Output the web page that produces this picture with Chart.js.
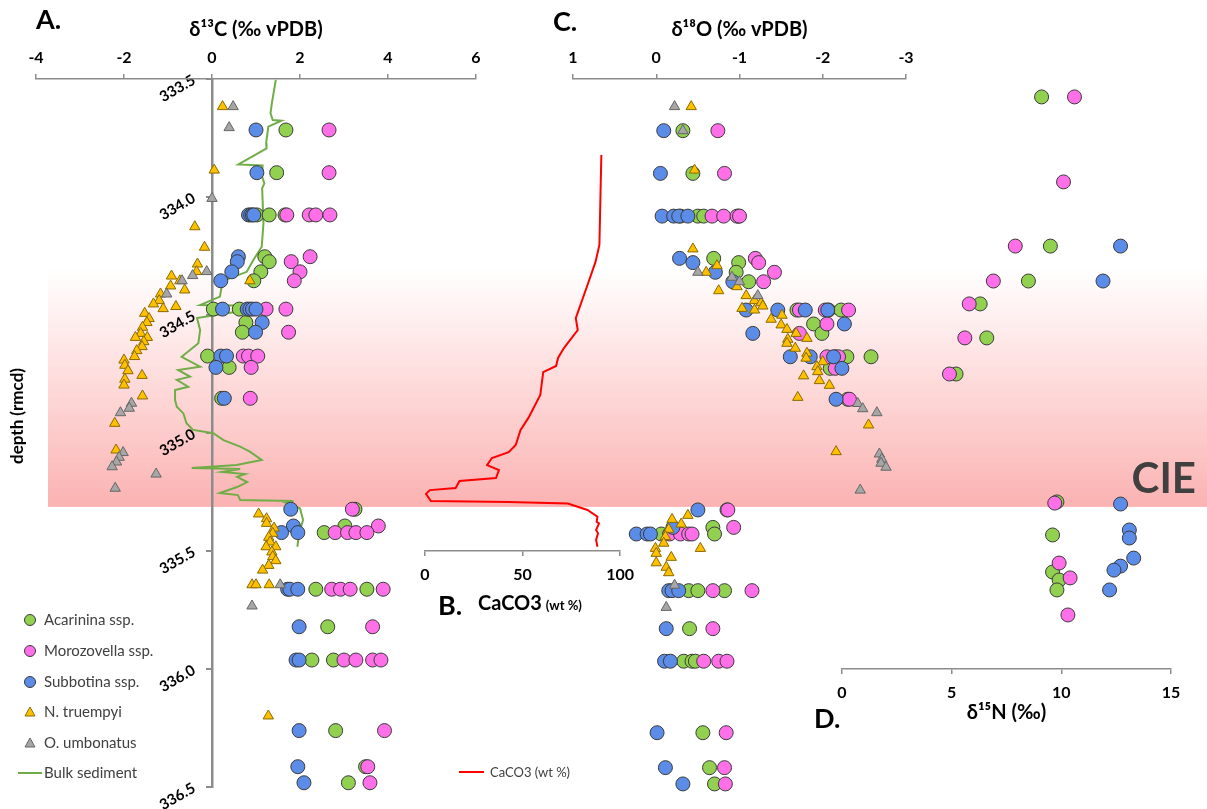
<!DOCTYPE html>
<html>
<head>
<meta charset="utf-8">
<script src="https://cdn.jsdelivr.net/npm/chart.js@4.4.1/dist/chart.umd.min.js"></script>
<style>
  html, body { margin: 0; padding: 0; background: #fff; }
  #wrap { position: relative; width: 1207px; height: 809px; overflow: hidden; }
  #wrap canvas { position: absolute; }
</style>
</head>
<body>
<div id="wrap"></div>
<script>
// ---- data: [depth (rmcd), value] ----
const acarC13 = [[333.716,1.68],[333.897,1.47],[334.076,1.02],[334.076,1.30],[334.076,1.66],[334.253,1.20],[334.274,1.30],[334.317,1.11],[334.355,0.95],
  [334.475,0.03],[334.475,0.62],[334.532,0.77],[334.573,0.69],[334.674,-0.10],[334.722,0.39],[334.853,0.22],
  [335.323,3.25],[335.394,3.02],[335.422,2.55],[335.662,2.36],[335.662,3.52],[335.821,2.63],[335.962,2.27],[335.962,2.76],[336.261,2.81],[336.414,3.49],[336.482,3.10]];
const moroC13 = [[333.716,2.66],[333.897,2.66],[334.076,1.70],[334.076,2.21],[334.076,2.36],[334.076,2.68],[334.253,2.23],[334.274,1.80],[334.317,2.00],[334.355,1.87],
  [334.475,1.23],[334.475,1.68],[334.573,1.74],[334.674,0.71],[334.674,0.83],[334.674,1.04],[334.722,0.89],[334.853,0.87],
  [335.323,3.19],[335.394,3.78],[335.422,2.80],[335.422,3.08],[335.422,3.27],[335.422,3.52],[335.662,2.72],[335.662,2.92],[335.662,3.14],[335.662,3.89],
  [335.821,3.65],[335.962,3.00],[335.962,3.27],[335.962,3.65],[335.962,3.84],[336.261,3.92],[336.414,3.54],[336.482,3.59]];
const subbC13 = [[333.716,1.00],[333.897,1.02],[334.076,0.83],[334.076,0.88],[334.076,0.92],[334.076,0.95],[334.253,0.60],[334.274,0.575],[334.317,0.45],[334.355,0.20],
  [334.475,0.24],[334.475,0.80],[334.475,0.86],[334.475,0.92],[334.475,1.00],[334.532,1.14],[334.573,0.99],[334.674,0.20],[334.674,0.33],[334.722,0.09],[334.853,0.28],
  [335.323,1.79],[335.394,1.85],[335.422,1.58],[335.422,1.95],[335.662,1.72],[335.662,1.77],[335.662,1.95],[335.821,1.98],[335.962,1.91],[335.962,1.98],
  [336.261,1.98],[336.414,1.95],[336.482,2.09]];
const ntruC13 = [[333.617,0.24],[333.886,0.05],[334.126,-0.39],[334.213,-0.17],[334.284,-0.33],[334.316,-0.35],[334.335,-0.92],[334.355,-0.73],[334.355,0.86],
  [334.377,-0.94],[334.394,-0.62],[334.411,-1.17],[334.439,-1.20],[334.453,-1.33],[334.464,-0.82],[334.473,-1.11],[334.493,-1.53],[334.515,-1.43],[334.532,-1.48],
  [334.552,-1.58],[334.578,-1.62],[334.595,-1.74],[334.595,-1.47],[334.613,-1.55],[334.634,-1.59],[334.651,-1.71],[334.676,-1.76],[334.691,-2.00],[334.713,-1.98],
  [334.736,-1.91],[334.756,-1.59],[334.772,-1.98],[334.797,-2.00],[334.843,-1.58],[334.959,-2.21],[335.072,-2.18],
  [335.343,1.06],[335.363,1.24],[335.383,1.24],[335.403,1.41],[335.425,1.38],[335.442,1.29],[335.462,1.32],[335.482,1.23],[335.482,1.45],[335.504,1.36],
  [335.524,1.38],[335.541,1.45],[335.561,1.29],[335.581,1.15],[335.643,0.91],[335.643,1.00],[335.643,1.30],[336.199,1.28]];
const oumbC13 = [[333.617,0.48],[333.706,0.39],[334.006,0.00],[334.316,-0.12],[334.333,-0.44],[334.355,-0.68],[334.411,-1.03],[334.874,-1.83],[334.895,-1.88],
  [334.914,-2.08],[335.083,-2.02],[335.103,-2.11],[335.123,-2.17],[335.143,-2.27],[335.174,-1.27],[335.234,-2.20],[335.643,1.55],[335.733,0.91]];
const bulkC13 = [[333.504,1.45],[333.603,1.36],[333.645,1.33],[333.674,1.38],[333.677,1.58],[333.702,1.28],[333.772,1.23],[333.794,1.24],[333.862,0.60],[333.866,1.15],
  [333.914,1.14],[333.942,1.19],[333.963,1.14],[334.111,1.17],[334.211,1.13],[334.267,0.94],[334.317,0.79],[334.352,0.30],[334.380,0.22],[334.422,0.18],
  [334.458,-0.27],[334.462,1.39],[334.513,-0.34],[334.564,-0.27],[334.620,-0.31],[334.677,-0.69],[334.719,-0.27],[334.733,-0.77],[334.761,-0.50],[334.775,-0.80],
  [334.804,-0.54],[334.818,-0.84],[334.860,-0.84],[334.889,-0.80],[334.917,-0.65],[334.959,-0.58],[334.987,-0.43],[335.001,0.03],[335.030,0.26],[335.058,0.64],
  [335.079,0.86],[335.114,1.13],[335.136,0.56],[335.148,-0.46],[335.153,0.64],[335.165,0.23],[335.174,0.75],[335.186,0.57],[335.208,0.80],[335.229,0.57],
  [335.254,0.18],[335.263,0.59],[335.284,0.64],[335.288,1.85],[335.294,1.66],[335.319,2.00],[335.369,2.07],[335.425,1.98],[335.482,1.94]];

const acarO18 = [[333.719,-0.32],[333.900,-0.44],[334.081,-0.29],[334.081,-0.50],[334.081,-0.57],[334.081,-0.99],[334.260,-0.69],[334.278,-0.99],[334.319,-0.96],[334.359,-1.11],
  [334.479,-1.69],[334.479,-2.07],[334.479,-2.22],[334.538,-1.89],[334.578,-1.99],[334.677,-2.29],[334.677,-2.58],[334.726,-2.09],[334.857,-2.30],
  [335.326,-0.85],[335.400,-0.68],[335.428,-0.06],[335.428,-0.70],[335.668,-0.39],[335.668,-0.50],[335.668,-0.82],[335.829,-0.40],
  [335.967,-0.33],[335.967,-0.43],[335.967,-0.47],[336.270,-0.56],[336.418,-0.64],[336.487,-0.70]];
const moroO18 = [[333.719,-0.74],[333.900,-0.82],[334.081,-0.67],[334.081,-0.81],[334.081,-0.97],[334.081,-1.00],[334.260,-1.19],[334.278,-1.23],[334.319,-1.42],[334.359,-1.29],
  [334.479,-1.72],[334.479,-2.03],[334.479,-2.31],[334.538,-2.05],[334.578,-1.72],[334.677,-2.05],[334.677,-2.15],[334.677,-2.19],[334.726,-2.15],[334.857,-2.32],
  [335.326,-0.86],[335.400,-0.93],[335.428,-0.16],[335.428,-0.29],[335.428,-0.39],[335.428,-0.43],[335.668,-0.68],[335.668,-1.15],[335.829,-0.68],
  [335.967,-0.57],[335.967,-0.75],[335.967,-0.85],[336.270,-0.84],[336.418,-0.82],[336.487,-0.83]];
const subbO18 = [[333.719,-0.09],[333.900,-0.05],[334.081,-0.07],[334.081,-0.21],[334.081,-0.27],[334.081,-0.38],[334.260,-0.28],[334.278,-0.44],[334.319,-0.71],[334.359,-0.92],
  [334.479,-1.08],[334.479,-1.46],[334.479,-1.79],[334.479,-2.06],[334.538,-2.26],[334.578,-1.16],[334.677,-1.61],[334.677,-1.85],[334.677,-2.13],[334.726,-2.23],[334.857,-2.16],
  [335.326,-0.50],[335.400,-0.20],[335.428,0.24],[335.428,0.11],[335.428,0.07],[335.668,-0.15],[335.668,-0.19],[335.668,-0.27],[335.829,-0.12],
  [335.967,-0.10],[335.967,-0.17],[336.270,-0.01],[336.418,-0.11],[336.487,-0.32]];
const ntruO18 = [[333.617,-0.42],[333.886,-0.46],[334.220,-0.44],[334.291,-0.73],[334.319,-0.60],[334.380,-0.97],[334.397,-0.75],[334.418,-1.08],[334.439,-1.18],
  [334.448,-1.26],[334.462,-1.28],[334.472,-1.03],[334.479,-1.18],[334.501,-1.51],[334.518,-1.38],[334.542,-1.50],[334.561,-1.57],[334.578,-1.68],[334.599,-1.81],
  [334.603,-1.58],[334.620,-1.57],[334.641,-1.67],[334.662,-1.81],[334.683,-1.80],[334.698,-2.00],[334.719,-1.93],[334.740,-1.94],[334.758,-1.77],[334.778,-1.96],
  [334.798,-2.08],[334.849,-1.70],[334.966,-2.55],[335.079,-2.16],
  [335.349,-0.38],[335.366,-0.19],[335.386,-0.30],[335.408,-0.15],[335.439,-0.11],[335.467,-0.09],[335.489,0.01],[335.489,-0.53],[335.510,0.00],[335.527,-0.18],
  [335.550,0.00],[335.569,-0.12],[335.592,-0.15]];
const oumbO18 = [[333.617,-0.22],[333.719,-0.32],[334.319,-0.50],[334.340,-0.91],[334.359,-1.00],[334.418,-1.22],[334.875,-2.42],[334.897,-2.48],[334.914,-2.65],
  [335.089,-2.68],[335.111,-2.71],[335.128,-2.70],[335.145,-2.76],[335.242,-2.45],[335.645,-0.22],[335.739,-0.12]];

const caco3 = [[333.822,90.4],[334.013,89.9],[334.203,89.4],[334.275,87.4],[334.373,83.3],[334.513,77.3],[334.564,78.3],[334.640,71.2],[334.682,68.2],[334.716,67.2],
  [334.742,60.6],[334.839,59.1],[334.936,53.0],[334.987,49.0],[335.051,46.5],[335.081,42.9],[335.106,34.3],[335.136,31.8],[335.157,37.9],[335.191,36.4],
  [335.203,17.7],[335.233,15.7],[335.242,2.5],[335.258,0.5],[335.288,3.0],[335.292,42.9],[335.299,73.2],[335.326,83.3],[335.355,88.4],[335.376,88.0],
  [335.383,89.2],[335.411,87.7],[335.425,88.7],[335.453,87.7],[335.482,88.4]];

const acarN15 = [[333.576,9.1],[334.208,9.5],[334.356,8.5],[334.453,6.3],[334.597,6.6],[334.750,5.2],[335.292,9.8],[335.432,9.6],[335.589,9.6],[335.623,9.9],[335.665,9.8]];
const moroN15 = [[333.576,10.6],[333.936,10.1],[334.208,7.9],[334.356,6.9],[334.453,5.8],[334.597,5.6],[334.750,4.9],[335.297,9.7],[335.551,9.9],[335.614,10.4],[335.771,10.3]];
const subbN15 = [[334.208,12.7],[334.356,11.9],[335.301,12.7],[335.411,13.1],[335.445,13.1],[335.530,13.3],[335.564,12.7],[335.581,12.4],[335.665,12.2]];

const cieTop = 334.30, cieBase = 335.313;

// ---- styles ----
Chart.defaults.font.family = "Lato, 'Open Sans', sans-serif";
Chart.defaults.animation = false;
const axisGrey = '#8c8c8c';
const colAcar = '#92d050', colMoro = '#ff70e8', colSubb = '#5b8ce8', colNtru = '#ffc000', colOumb = '#a6a6a6';

const toXY = arr => arr.map(([d, v]) => ({x: v, y: d}));
const circles = (label, arr, color) => ({label, data: toXY(arr), pointStyle: 'circle', pointRadius: 7,
  backgroundColor: color, borderColor: '#3a3a3a', borderWidth: 1, showLine: false, clip: false});
const tris = (label, arr, color, edge) => ({label, data: toXY(arr), pointStyle: 'triangle', pointRadius: 6,
  backgroundColor: color, borderColor: edge, borderWidth: 1, showLine: false, clip: false});

function xAxis(pos, min, max, step, height, extra) {
  return Object.assign({
    type: 'linear', position: pos, min, max,
    ticks: {stepSize: step, color: '#000', font: {size: 16, weight: 'bold'}, padding: pos === 'top' ? 7 : 9},
    grid: {drawOnChartArea: false, tickLength: 5, color: axisGrey, lineWidth: 1.5},
    border: {color: axisGrey, width: 1.5},
    afterFit: s => { s.height = height; }
  }, extra);
}
const depthAxis = max => ({type: 'linear', display: false, min: 333.5, max, reverse: true});

const wrap = document.getElementById('wrap');
function makeChart(left, top, width, height, config) {
  const cv = document.createElement('canvas');
  cv.width = width; cv.height = height;
  cv.style.left = left + 'px'; cv.style.top = top + 'px';
  cv.style.width = width + 'px'; cv.style.height = height + 'px';
  wrap.appendChild(cv);
  config.options.responsive = false;
  config.options.plugins = Object.assign({legend: {display: false}, tooltip: {enabled: false}}, config.options.plugins || {});
  return new Chart(cv.getContext('2d'), config);
}

// ---- background: CIE band, depth axis, legend, panel labels ----
const decorPlugin = {
  id: 'decor',
  beforeDraw(chart) {
    const ctx = chart.ctx, y = chart.scales.y;
    const y1 = y.getPixelForValue(cieTop), y2 = y.getPixelForValue(cieBase);
    const g = ctx.createLinearGradient(0, y1, 0, y2);
    g.addColorStop(0, 'rgba(252,180,180,0)');
    g.addColorStop(0.45, 'rgba(252,180,180,0.45)');
    g.addColorStop(1, 'rgba(251,178,178,1)');
    ctx.save();
    ctx.fillStyle = g;
    ctx.fillRect(48, y1, 1207 - 48, y2 - y1);
    ctx.restore();
  },
  afterDraw(chart) {
    const ctx = chart.ctx;
    ctx.save();
    ctx.fillStyle = '#000';
    ctx.textBaseline = 'middle';
    ctx.font = "bold 27px Lato, sans-serif";
    ctx.fillText('A.', 36, 20);
    ctx.fillText('C.', 553, 22);
    ctx.fillText('B.', 438, 606);
    ctx.fillText('D.', 814, 719);
    ctx.font = "bold 20px Lato, sans-serif";
    ctx.fillText('CaCO3', 478, 604);
    const w = ctx.measureText('CaCO3').width;
    ctx.font = "bold 13px Lato, sans-serif";
    ctx.fillText('(wt %)', 482 + w, 606);
    // depth title
    ctx.save();
    ctx.translate(18, 416);
    ctx.rotate(-Math.PI / 2);
    ctx.textAlign = 'center';
    ctx.font = "bold 17px Lato, sans-serif";
    ctx.fillText('depth (rmcd)', 0, 0);
    ctx.restore();
    // CIE
    ctx.fillStyle = '#404040';
    ctx.font = "bold 42px Lato, sans-serif";
    ctx.textAlign = 'right';
    ctx.fillText('CIE', 1196, 479);
    // legend
    ctx.textAlign = 'left';
    ctx.font = "15px Lato, sans-serif";
    const items = [
      ['Acarinina ssp.', 'circle', colAcar, '#3a3a3a'],
      ['Morozovella ssp.', 'circle', colMoro, '#3a3a3a'],
      ['Subbotina ssp.', 'circle', colSubb, '#3a3a3a'],
      ['N. truempyi', 'triangle', colNtru, '#8a6a00'],
      ['O. umbonatus', 'triangle', colOumb, '#666'],
      ['Bulk sediment', 'line', '#70ad47']
    ];
    const rows = [620, 651, 682, 712, 743, 773];
    items.forEach(([label, kind, fill, edge], i) => {
      const yy = rows[i];
      ctx.lineWidth = 1;
      if (kind === 'circle') {
        ctx.beginPath(); ctx.arc(30, yy, 5.5, 0, Math.PI * 2);
        ctx.fillStyle = fill; ctx.fill(); ctx.strokeStyle = edge; ctx.stroke();
      } else if (kind === 'triangle') {
        ctx.beginPath(); ctx.moveTo(30, yy - 5); ctx.lineTo(35, yy + 4); ctx.lineTo(25, yy + 4); ctx.closePath();
        ctx.fillStyle = fill; ctx.fill(); ctx.strokeStyle = edge; ctx.stroke();
      } else {
        ctx.beginPath(); ctx.moveTo(18, yy); ctx.lineTo(42, yy);
        ctx.strokeStyle = fill; ctx.lineWidth = 2; ctx.stroke();
      }
      ctx.fillStyle = '#404040';
      ctx.fillText(label, 44, yy);
    });
    ctx.beginPath(); ctx.moveTo(459, 772); ctx.lineTo(484, 772);
    ctx.strokeStyle = '#ff0000'; ctx.lineWidth = 2; ctx.stroke();
    ctx.font = "13px Lato, sans-serif";
    ctx.fillStyle = '#404040';
    ctx.fillText('CaCO3 (wt %)', 490, 773);
    ctx.restore();
  }
};

makeChart(0, 0, 1207, 809, {
  type: 'scatter',
  data: {datasets: []},
  options: {
    layout: {padding: {left: 0, right: 0, top: 79, bottom: 22}},
    scales: {
      x: {type: 'linear', display: false, min: 0, max: 1},
      y: {
        type: 'linear', position: 'left', min: 333.5, max: 336.5, reverse: true,
        ticks: {stepSize: 0.5, minRotation: 30, maxRotation: 30, padding: 12, color: '#000',
          font: {size: 15, weight: 'bold'}, callback: v => v.toFixed(1)},
        grid: {drawOnChartArea: false, tickLength: 6, color: axisGrey, lineWidth: 2},
        border: {color: axisGrey, width: 2.5},
        afterFit: s => { s.width = 212; }
      }
    }
  },
  plugins: [decorPlugin]
});

// ---- B: CaCO3 ----
makeChart(405, 0, 238, 586, {
  type: 'scatter',
  data: {datasets: [{label: 'CaCO3 (wt %)', data: toXY(caco3), showLine: true, borderColor: '#ff0000',
    borderWidth: 2, pointRadius: 0, tension: 0}]},
  options: {
    layout: {padding: {left: 20, right: 20, top: 79, bottom: 0}},
    scales: {x: xAxis('bottom', 0, 100, 50, 35), y: depthAxis(335.5)}
  }
});

// ---- A: d13C ----
makeChart(16, 0, 480, 809, {
  type: 'scatter',
  data: {datasets: [
    tris('O. umbonatus', oumbC13, colOumb, '#666'),
    tris('N. truempyi', ntruC13, colNtru, '#8a6a00'),
    circles('Subbotina ssp.', subbC13, colSubb),
    circles('Morozovella ssp.', moroC13, colMoro),
    circles('Acarinina ssp.', acarC13, colAcar),
    {label: 'Bulk sediment', data: toXY(bulkC13), showLine: true, borderColor: '#70ad47', borderWidth: 2, pointRadius: 0, tension: 0}
  ]},
  options: {
    layout: {padding: {left: 20, right: 20, top: 0, bottom: 22}},
    scales: {
      x: xAxis('top', -4, 6, 2, 79, {title: {display: true, text: 'δ¹³C (‰ vPDB)', color: '#000',
        font: {size: 20, weight: 'bold'}, padding: {top: 18, bottom: 0}}}),
      y: depthAxis(336.5)
    }
  }
});

// ---- C: d18O ----
makeChart(553, 0, 373, 809, {
  type: 'scatter',
  data: {datasets: [
    tris('O. umbonatus', oumbO18, colOumb, '#666'),
    tris('N. truempyi', ntruO18, colNtru, '#8a6a00'),
    circles('Subbotina ssp.', subbO18, colSubb),
    circles('Morozovella ssp.', moroO18, colMoro),
    circles('Acarinina ssp.', acarO18, colAcar)
  ]},
  options: {
    layout: {padding: {left: 20, right: 20, top: 0, bottom: 22}},
    scales: {
      x: xAxis('top', -3, 1, 1, 79, {reverse: true, title: {display: true, text: 'δ¹⁸O (‰ vPDB)', color: '#000',
        font: {size: 20, weight: 'bold'}, padding: {top: 18, bottom: 0}}}),
      y: depthAxis(336.5)
    }
  }
});

// ---- D: d15N ----
makeChart(822, 0, 369, 730, {
  type: 'scatter',
  data: {datasets: [
    circles('Subbotina ssp.', subbN15, colSubb),
    circles('Morozovella ssp.', moroN15, colMoro),
    circles('Acarinina ssp.', acarN15, colAcar)
  ]},
  options: {
    layout: {padding: {left: 20, right: 20, top: 79, bottom: 0}},
    scales: {
      x: xAxis('bottom', 0, 15, 5, 61, {title: {display: true, text: 'δ¹⁵N (‰)', color: '#000',
        font: {size: 20, weight: 'bold'}, padding: {top: 0, bottom: 5}}}),
      y: depthAxis(336.0)
    }
  }
});
</script>
</body>
</html>
